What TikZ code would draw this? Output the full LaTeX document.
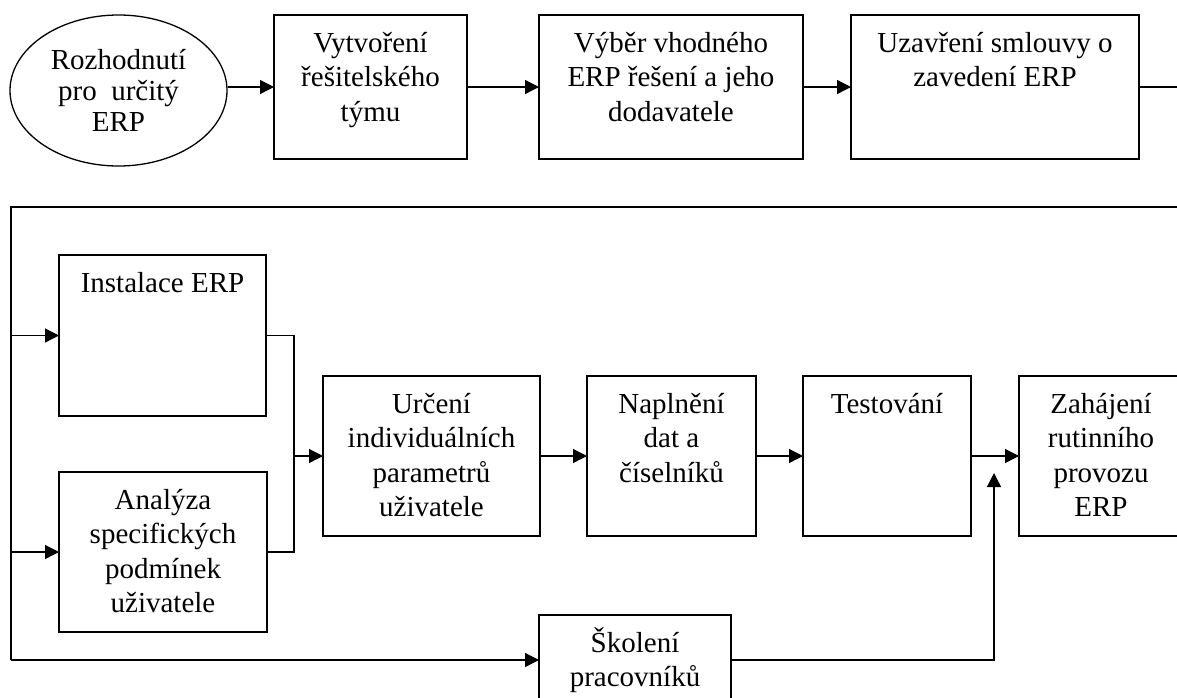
\documentclass[tikz,border=0pt]{standalone}
\usepackage{fontspec}
\setmainfont{Liberation Serif}
\usetikzlibrary{arrows.meta,shapes.geometric}
\newcommand{\bxt}[3]{\parbox[c][#2pt][t]{#1pt}{\centering\rule{0pt}{37pt}#3\par}}
\tikzset{
  stepbox/.style={draw, line width=1.3pt, inner sep=0pt, outer sep=0pt, anchor=north west, rectangle},
  conn/.style={line width=1.3pt},
  arr/.style={line width=1.3pt, -{Triangle[length=14pt,width=14pt]}},
}
\begin{document}
\begin{tikzpicture}[x=1pt,y=-1pt,font=\fontsize{29}{34.5}\selectfont]
\useasboundingbox (0,0) rectangle (1177,697);
\fill[white] (0,0) rectangle (1177,697);
\clip (0,0) rectangle (1177,697);
% top row
\node[draw, ellipse, line width=1.3pt, inner sep=0pt, minimum width=217pt, minimum height=151pt, align=center,
      font=\fontsize{29}{31}\selectfont] (ell) at (118.5,90.5) {Rozhodnutí\\pro\ \ určitý\\ERP};
\node[stepbox] (b2) at (274,15) {\bxt{193}{144}{Vytvoření\\řešitelského\\týmu}};
\node[stepbox] (b3) at (539,15) {\bxt{264}{144}{Výběr vhodného\\ERP řešení a jeho\\dodavatele}};
\node[stepbox] (b4) at (851,15) {\bxt{288}{144}{Uzavření smlouvy o\\zavedení ERP}};
% second part
\node[stepbox] (inst) at (59,255) {\bxt{207}{161}{Instalace ERP}};
\node[stepbox] (anal) at (59,472) {\bxt{208}{160}{Analýza\\specifických\\podmínek\\uživatele}};
\node[stepbox] (urc) at (323,376) {\bxt{217}{160}{Určení\\individuálních\\parametrů\\uživatele}};
\node[stepbox] (napl) at (587,376) {\bxt{169}{160}{Naplnění\\dat a\\číselníků}};
\node[stepbox] (test) at (803,376) {\bxt{168}{160}{Testování}};
\node[stepbox] (zah) at (1019,376) {\bxt{164}{160}{Zahájení\\rutinního\\provozu\\ERP}};
\node[stepbox] (sk) at (539,615) {\bxt{192}{90}{Školení\\pracovníků}};
% coordinates
\coordinate (R) at (1195,0);
\coordinate (T) at (0,207);
\coordinate (L) at (11,0);
\coordinate (J) at (294,0);
\coordinate (up) at (994,473);
% connectors top row
\draw[arr] (ell.east |- b2.west) -- (b2.west);
\draw[arr] (b2.east) -- (b3.west);
\draw[arr] (b3.east) -- (b4.west);
\draw[conn] (b4.east) -- (R |- b4.east) -- (R |- T) -- (L |- T) -- (L |- sk.west);
\draw[arr] (L |- sk.west) -- (sk.west);
\draw[arr] (L |- inst.west) -- (inst.west);
\draw[arr] (L |- anal.west) -- (anal.west);
% merge
\draw[conn] (inst.east) -- (J |- inst.east) -- (J |- anal.east) -- (anal.east);
\draw[arr] (J |- urc.west) -- (urc.west);
\draw[arr] (urc.east) -- (napl.west);
\draw[arr] (napl.east) -- (test.west);
\draw[arr] (test.east) -- (zah.west);
\draw[arr] (sk.east) -- (up |- sk.east) -- (up);
\end{tikzpicture}
\end{document}
